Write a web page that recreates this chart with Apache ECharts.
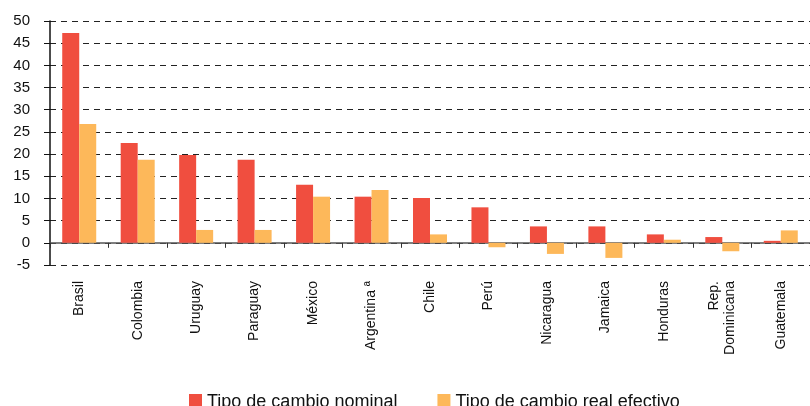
<!DOCTYPE html>
<html><head><meta charset="utf-8">
<script src="https://cdn.jsdelivr.net/npm/echarts@6/dist/echarts.min.js"></script>
<style>html,body{margin:0;padding:0;background:#fff}#c{width:810px;height:406px}</style>
</head><body><div id="c"></div>
<script>
const categories = ['Brasil','Colombia','Uruguay','Paraguay','México','Argentina ª','Chile','Perú','Nicaragua','Jamaica','Honduras','Rep.\nDominicana','Guatemala'];
const nominal = [47.3, 22.5, 19.8, 18.7, 13.1, 10.4, 10.1, 8.0, 3.7, 3.7, 1.9, 1.3, 0.45];
const realEfectivo = [26.8, 18.7, 2.9, 2.9, 10.4, 11.9, 1.9, -1.0, -2.5, -3.4, 0.7, -1.9, 2.8];
const yTicks = {min: -5, max: 50, interval: 5};
const seriesNames = ['Tipo de cambio nominal', 'Tipo de cambio real efectivo'];

const chart = echarts.init(document.getElementById('c'));
const font = 'Liberation Sans, Arial, sans-serif';
chart.setOption({
  animation: false,
  grid: {left: 50, right: 0, top: 21, bottom: 141},
  legend: {
    top: 388, left: 184, itemWidth: 13, itemHeight: 16, itemGap: 40,
    icon: 'rect',
    textStyle: {fontFamily: font, fontSize: 18, color: '#111'},
    data: seriesNames
  },
  xAxis: {
    type: 'category', data: categories,
    axisLine: {onZero: true, lineStyle: {color: '#555', width: 1.5}},
    axisTick: {show: true, length: 5, lineStyle: {color: '#333'}},
    axisLabel: {rotate: 90, margin: 16, interval: 0, fontFamily: font, fontSize: 14, color: '#111', lineHeight: 16}
  },
  yAxis: {
    type: 'value', min: yTicks.min, max: yTicks.max, interval: yTicks.interval,
    axisLine: {show: true, lineStyle: {color: '#111', width: 1.5}},
    axisTick: {show: true, length: 6, lineStyle: {color: '#111'}},
    axisLabel: {fontFamily: font, fontSize: 15, color: '#111', margin: 20},
    splitLine: {show: true, lineStyle: {type: [6, 5], color: '#222', width: 1}}
  },
  series: [
    {name: seriesNames[0], type: 'bar', data: nominal, barWidth: 17, barGap: '0%', itemStyle: {color: '#F04E3F'}},
    {name: seriesNames[1], type: 'bar', data: realEfectivo, barWidth: 17, barGap: '0%', itemStyle: {color: '#FDB85A'}}
  ]
});
</script></body></html>
